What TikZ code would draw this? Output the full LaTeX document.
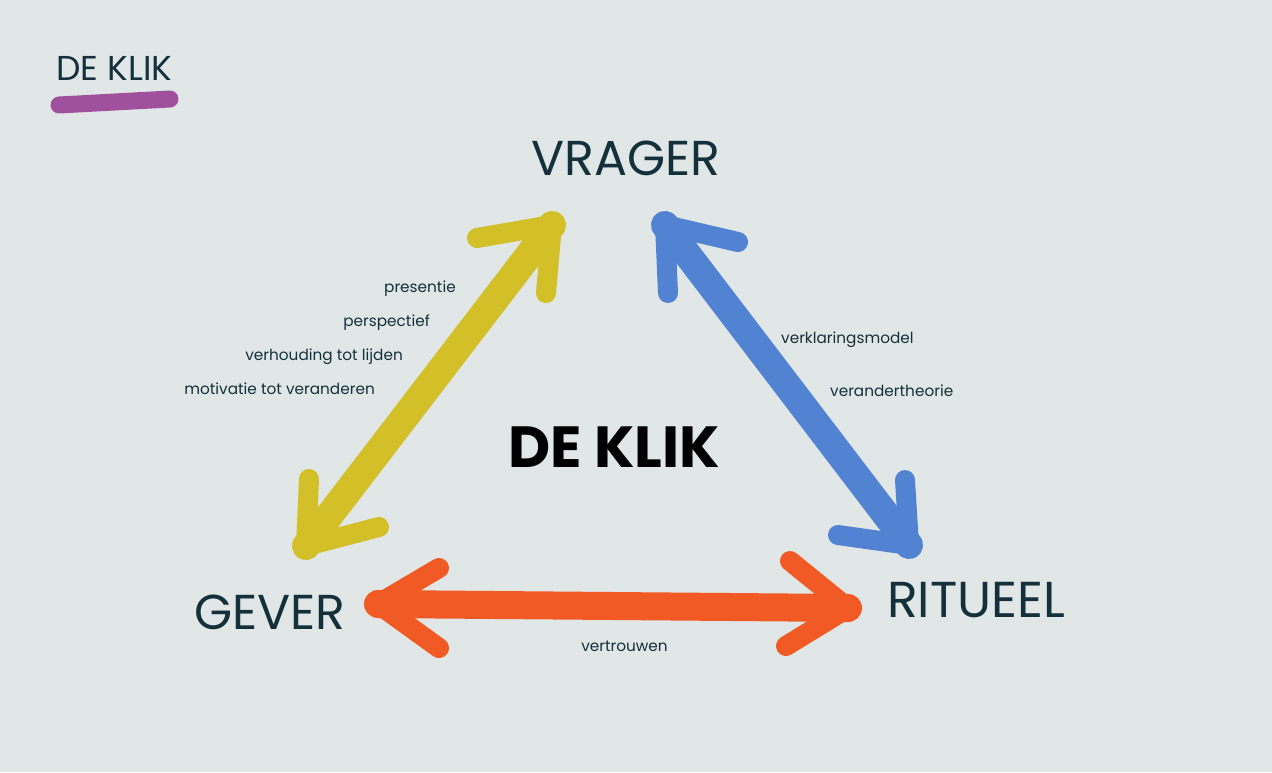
\documentclass[tikz,border=0pt]{standalone}
\usepackage{fontspec}
\setmainfont{Poppins}
\definecolor{bg}{HTML}{E1E7E7}
\definecolor{ink}{HTML}{13303B}
\definecolor{yel}{HTML}{D3BF28}
\definecolor{blu}{HTML}{5283D3}
\definecolor{ora}{HTML}{F15A24}
\definecolor{pur}{HTML}{A0519E}
\tikzset{
  shaft/.style={line width=28pt, line cap=round},
  arm/.style={line width=20pt, line cap=round, line join=round},
  lbl/.style={inner sep=0pt, text=ink, font=\fontsize{15.3}{18}\selectfont},
  big/.style={inner sep=0pt, text=ink, font=\fontsize{49}{58}\selectfont},
}
\begin{document}
\begin{tikzpicture}[x=1pt,y=-1pt]
\fill[bg] (0,0) rectangle (1272,772);
\useasboundingbox (0,0) rectangle (1272,772);
% title
\node[inner sep=0pt, text=ink, font=\fontsize{34.5}{40}\selectfont, anchor=base west] (title) at (56,80) {DE KLIK};
\coordinate (u1) at (59,105);
\coordinate (u2) at (170,99);
\draw[pur, line width=17pt, line cap=round] (u1) -- (u2);
% corner labels
\node[big, anchor=base west] (vrager) at (531,175) {VRAGER};
\node[big, anchor=base west] (gever) at (194,629) {GEVER};
\node[big, anchor=base west, font=\fontsize{50.5}{58}\selectfont] (ritueel) at (887,617) {RITUEEL};
\node[inner sep=0pt, text=black, font=\fontsize{58}{66}\selectfont\bfseries, anchor=base west] (center) at (508,467) {DE KLIK};
% yellow arrow
\coordinate (y1) at (552,225); \coordinate (ya) at (477,238); \coordinate (yb) at (546,293);
\coordinate (y2) at (306,546); \coordinate (yc) at (309,479); \coordinate (yd) at (379,527);
\draw[yel, shaft] (y2) -- (y1);
\draw[yel, arm] (ya) -- (y1) -- (yb);
\draw[yel, arm] (yc) -- (y2) -- (yd);
% blue arrow
\coordinate (b1) at (665,225); \coordinate (ba) at (738,242); \coordinate (bb) at (668,293);
\coordinate (b2) at (909,545); \coordinate (bc) at (905,480); \coordinate (bd) at (838,535);
\draw[blu, shaft] (b1) -- (b2);
\draw[blu, arm] (ba) -- (b1) -- (bb);
\draw[blu, arm] (bc) -- (b2) -- (bd);
% orange arrow
\coordinate (o1) at (378,604); \coordinate (oa) at (439,568); \coordinate (ob) at (439,648);
\coordinate (o2) at (848,608); \coordinate (oc) at (790,561); \coordinate (od) at (786,646);
\draw[ora, shaft] (o1) -- (o2);
\draw[ora, arm] (oa) -- (o1) -- (ob);
\draw[ora, arm] (oc) -- (o2) -- (od);
% side labels
\node[lbl, anchor=base east] (l1) at (456,292) {presentie};
\node[lbl, anchor=base east] (l2) at (430,326) {perspectief};
\node[lbl, anchor=base east] (l3) at (403,360) {verhouding tot lijden};
\node[lbl, anchor=base east] (l4) at (375,394) {motivatie tot veranderen};
\node[lbl, anchor=base west] (r1) at (781,343) {verklaringsmodel};
\node[lbl, anchor=base west] (r2) at (830,396) {verandertheorie};
\node[lbl, anchor=base] (bt) at (624.5,651) {vertrouwen};
\end{tikzpicture}
\end{document}
